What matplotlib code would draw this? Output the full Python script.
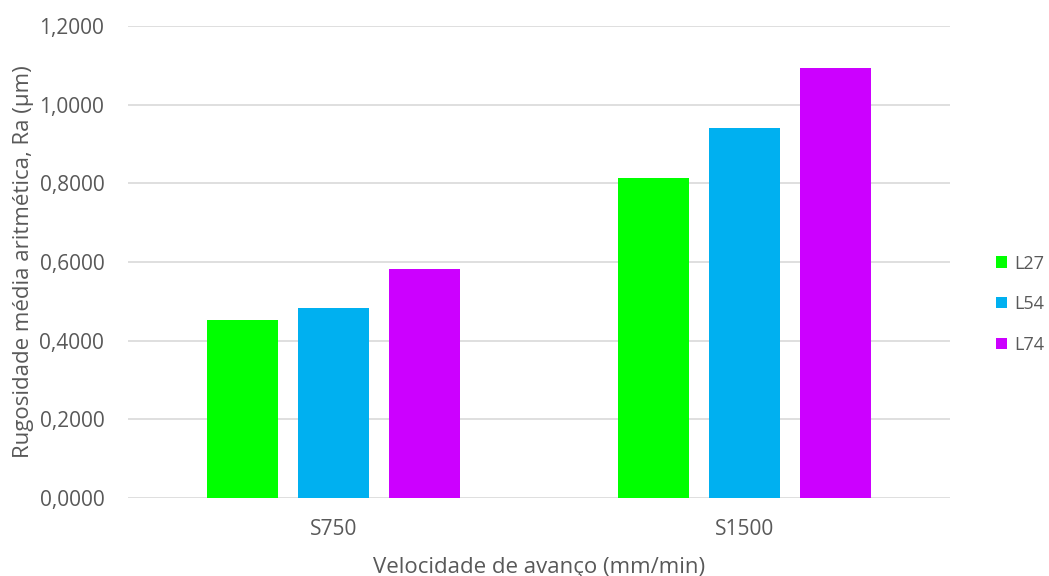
import numpy as np
import matplotlib.pyplot as plt

# valores
categorias = ['S750', 'S1500']
series = ['L27', 'L54', 'L74']
l27 = [0.452, 0.814]
l54 = [0.482, 0.941]
l74 = [0.582, 1.094]
cores = ['#00ff00', '#00b0f0', '#cc00ff']

plt.rcParams['font.family'] = ['Open Sans', 'DejaVu Sans']
cinza = '#595959'

fig = plt.figure(figsize=(10.49, 5.76), dpi=100)
ax = fig.add_axes([0.122, 0.1354, 0.7836, 0.8195])

x = np.arange(len(categorias))
largura = 0.175
passo = 0.2214
for i, (valores, cor, nome) in enumerate(zip([l27, l54, l74], cores, series)):
    ax.bar(x + (i - 1) * passo, valores, largura, color=cor, label=nome, zorder=3)

ax.set_xlim(-0.5, 1.5)
ax.set_ylim(0, 1.2)
ax.set_yticks(np.arange(0, 1.21, 0.2))
ax.set_yticklabels([f'{v:.4f}'.replace('.', ',') for v in np.arange(0, 1.21, 0.2)])
ax.set_xticks(x)
ax.set_xticklabels(categorias)
ax.yaxis.grid(True, color='#d9d9d9', linewidth=1.2, zorder=0)
ax.set_axisbelow(True)
for s in ['top', 'right', 'left', 'bottom']:
    ax.spines[s].set_visible(False)
ax.tick_params(axis='both', length=0, colors=cinza, labelsize=15)
ax.tick_params(axis='y', pad=17)
ax.tick_params(axis='x', pad=15)

ax.set_xlabel('Velocidade de avanço (mm/min)', fontsize=16, color=cinza, labelpad=12)
ax.set_ylabel('Rugosidade média aritmética, Ra (µm)', fontsize=16, color=cinza, labelpad=4)

fig.legend(loc='center left', bbox_to_anchor=(0.934, 0.472), frameon=False,
           handlelength=0.6, handleheight=0.6, handletextpad=0.4,
           labelspacing=1.25, fontsize=13, labelcolor=cinza)

fig.savefig('out.png', dpi=100)
